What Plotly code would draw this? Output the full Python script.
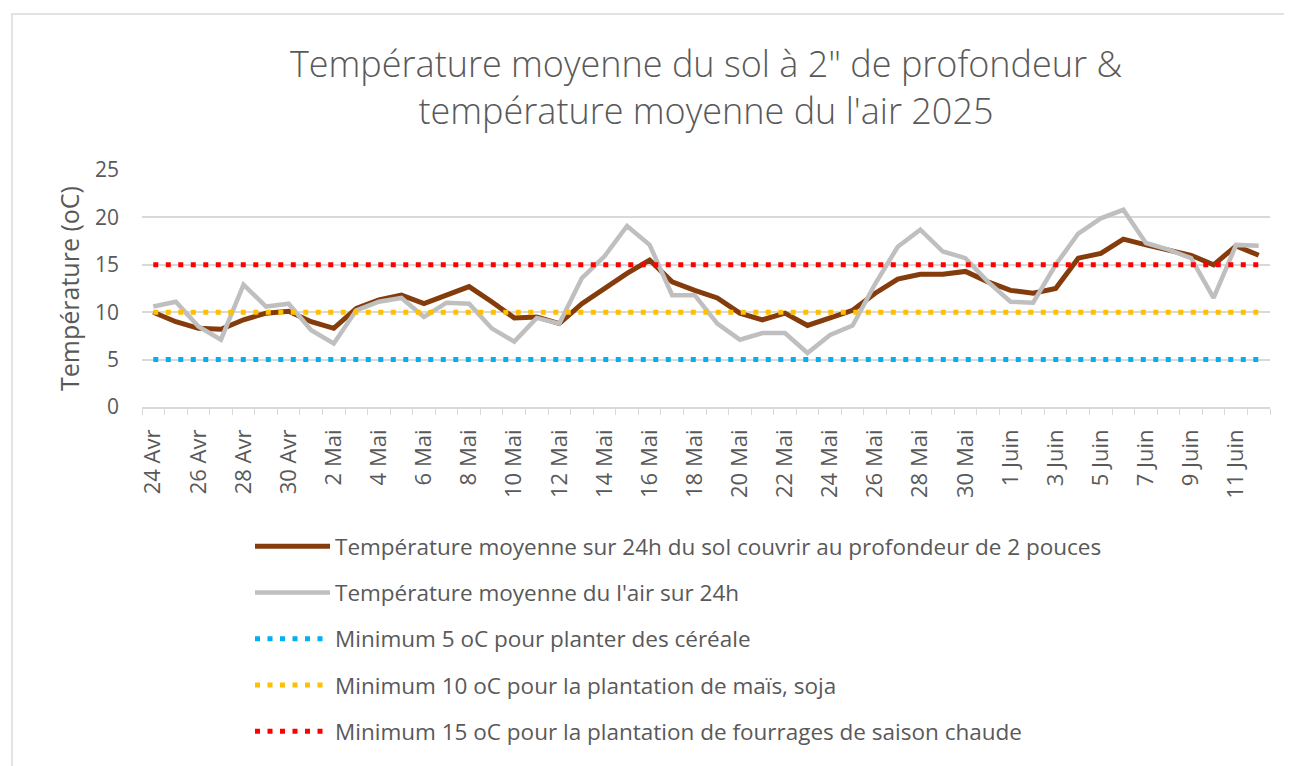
import plotly.graph_objects as go

# ---------------- data ----------------
dates = (
    [f"{d} Avr" for d in range(24, 31)]
    + [f"{d} Mai" for d in range(1, 32)]
    + [f"{d} Juin" for d in range(1, 13)]
)

soil_temp = [10.0, 9.0, 8.3, 8.2, 9.2, 9.9, 10.1, 9.0, 8.3, 10.4,
             11.3, 11.8, 10.9, 11.8, 12.7, 11.1, 9.4, 9.5, 8.8, 10.9,
             12.5, 14.1, 15.5, 13.2, 12.3, 11.5, 9.9, 9.2, 9.9, 8.6,
             9.4, 10.2, 12.0, 13.5, 14.0, 14.0, 14.3, 13.2, 12.3, 12.0,
             12.5, 15.7, 16.2, 17.7, 17.1, 16.6, 16.0, 15.0, 17.0, 16.0]

air_temp = [10.6, 11.1, 8.5, 7.1, 12.9, 10.6, 10.9, 8.1, 6.7, 10.2,
            11.1, 11.5, 9.5, 11.0, 10.9, 8.3, 6.9, 9.4, 8.8, 13.6,
            15.9, 19.1, 17.1, 11.8, 11.8, 8.8, 7.1, 7.8, 7.8, 5.7,
            7.6, 8.6, 13.0, 16.9, 18.7, 16.4, 15.7, 13.2, 11.1, 11.0,
            15.0, 18.3, 19.9, 20.8, 17.3, 16.6, 15.7, 11.5, 17.1, 17.0]

threshold_values = [5, 10, 15]
threshold_names = [
    "Minimum 5 oC pour planter des céréale",
    "Minimum 10 oC pour la plantation de maïs, soja",
    "Minimum 15 oC pour la plantation de fourrages de saison chaude",
]
soil_name = "Température moyenne sur 24h du sol couvrir au profondeur de 2 pouces"
air_name = "Température moyenne du l'air sur 24h"

y_ticks = [0, 5, 10, 15, 20, 25]
tick_labels = [d if i % 2 == 0 else "" for i, d in enumerate(dates)]

title_text = ("Température moyenne du sol à 2\" de profondeur &<br>"
              "température moyenne du l'air 2025")
y_title = "Température (oC)"

# ---------------- style ----------------
threshold_colors = ["#00B0F0", "#FFC000", "#FF0000"]
TXT = "#595959"
FONT = "Open Sans"
OFF = 8  # page body margin in the browser
W, H = 1292 - OFF, 766 - OFF
ML, MR, MT, MB = 142 - OFF, 22, 170 - OFF, 359
PW, PH = W - ML - MR, H - MT - MB

fig = go.Figure()
fig.add_trace(go.Scatter(
    x=dates, y=soil_temp, name=soil_name, mode="lines",
    line=dict(color="#843C0C", width=5), legendgroup="g1",
))
fig.add_trace(go.Scatter(
    x=dates, y=air_temp, name=air_name, mode="lines",
    line=dict(color="#BFBFBF", width=4.5), legendgroup="g2",
))
for k, (v, nm, col) in enumerate(zip(threshold_values, threshold_names, threshold_colors)):
    fig.add_trace(go.Scatter(
        x=dates, y=[v] * len(dates), name=nm, mode="lines",
        line=dict(color=col, width=5, dash="5px,7.5px"),
        legendgroup=f"g{k+3}",
    ))

# screen-pixel -> paper coordinate helpers (screen px include page offset)
def px_to_paper_x(px):
    return (px - OFF - ML) / PW

def px_to_paper_y(py):
    return (H - MB - (py - OFF)) / PH

fig.update_layout(
    width=W, height=H, autosize=False,
    margin=dict(l=ML, r=MR, t=MT, b=MB, autoexpand=False),
    paper_bgcolor="white", plot_bgcolor="white",
    font=dict(family=FONT, color=TXT),
    title=dict(
        text=title_text, x=0.5, xref="paper", xanchor="center",
        y=1 - (77 - OFF) / H, yanchor="middle",
        font=dict(size=36, color=TXT, family=FONT, weight=300),
    ),
    xaxis=dict(
        type="category", tickmode="array", tickvals=dates, ticktext=tick_labels,
        range=[-0.5, len(dates) - 0.5], automargin=False,
        tickson="boundaries", ticks="outside", ticklen=6, tickcolor="#D9D9D9",
        tickangle=-90, tickfont=dict(size=22, color=TXT), ticklabelstandoff=12,
        showline=True, linecolor="#D9D9D9", linewidth=1.5,
        showgrid=False, zeroline=False,
    ),
    yaxis=dict(
        range=[0, 25], tickvals=y_ticks, tickfont=dict(size=21, color=TXT),
        showgrid=True, gridcolor="#D9D9D9", gridwidth=1.5, zeroline=False,
        ticks="", ticklabelstandoff=22, automargin=False,
        title=dict(text=y_title, font=dict(size=25, color=TXT), standoff=8),
    ),
    legend=dict(
        orientation="v", x=px_to_paper_x(250), xanchor="left",
        y=px_to_paper_y(525), yanchor="top",
        font=dict(size=22.5, color=TXT), tracegroupgap=14, itemwidth=75,
        bgcolor="rgba(0,0,0,0)",
    ),
    shapes=[dict(
        type="rect", xref="paper", yref="paper",
        x0=px_to_paper_x(12), x1=px_to_paper_x(1292 + 20),
        y0=px_to_paper_y(766 + 20), y1=px_to_paper_y(14),
        line=dict(color="#E3E3E3", width=2), fillcolor="rgba(0,0,0,0)",
        layer="below",
    )],
)

fig.write_html("out.html")
